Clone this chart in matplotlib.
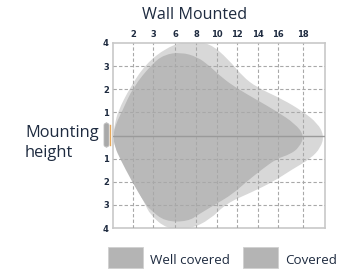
import matplotlib.pyplot as plt
from matplotlib.path import Path
from matplotlib.patches import PathPatch, FancyBboxPatch, Rectangle

# tick labels along the top (distance) and the side (height)
x_labels = ['2', '3', '6', '8', '10', '12', '14', '16', '18']
x_pos = [0.97, 1.94, 3.01, 4.03, 5.05, 6.02, 7.04, 8.01, 9.22]
y_labels = ['4', '3', '2', '1', '', '1', '2', '3', '4']
y_pos = [4, 3, 2, 1, 0, -1, -2, -3, -4]

# outline of the "Covered" zone (control points)
covered_x = [0, 0.1, 0.24, 0.83, 1.6, 2.6, 3.6, 4.7, 5.6, 6.3, 6.99, 8.25,
             9.22, 9.95, 10.25, 10.1, 9.6, 8.7, 7.8, 6.7, 5.5, 4.71, 3.74,
             2.62, 1.8, 1.55, 0.97, 0.44, 0.1]
covered_y = [0, 0.52, 1.04, 2.08, 3.1, 3.8, 4.1, 4.0, 3.3, 2.55, 2.08, 1.56,
             1.04, 0.52, 0, -0.52, -1.0, -1.47, -1.99, -2.47, -2.94, -3.64, -4.05,
             -4.05, -3.42, -2.94, -1.99, -1.0, -0.52]

# outline of the "Well covered" zone (control points)
well_x = [0, 0.15, 0.44, 0.97, 1.9, 2.5, 3.3, 4.1, 4.7, 5.3, 6.0, 6.95,
          7.96, 8.83, 9.3, 9.05, 8.59, 7.96, 7.23, 6.5, 5.78, 5.05, 4.22, 3.64,
          2.52, 1.8, 1.55, 0.92, 0.34, 0.1]
well_y = [0, 0.52, 1.04, 2.08, 3.1, 3.5, 3.6, 3.4, 3.0, 2.5, 2.05, 1.56,
          1.04, 0.52, 0, -0.52, -0.82, -1.0, -1.47, -1.99, -2.55, -2.94, -3.38,
          -3.72, -3.72, -3.2, -2.94, -1.99, -1.0, -0.52]

legend_labels = ['Well covered', 'Covered']

text_col = '#1e2b40'


def smooth_closed(xs, ys):
    # quadratic bezier through the midpoints, control points at the vertices
    n = len(xs)
    mids = [((xs[i] + xs[(i + 1) % n]) / 2, (ys[i] + ys[(i + 1) % n]) / 2) for i in range(n)]
    verts = [mids[-1]]
    codes = [Path.MOVETO]
    for i in range(n):
        verts += [(xs[i], ys[i]), mids[i]]
        codes += [Path.CURVE3, Path.CURVE3]
    return Path(verts, codes)


fig = plt.figure(figsize=(3.41, 2.71), dpi=100)
ax = fig.add_axes([113 / 341, 43 / 271, 212 / 341, 185 / 271])
ax.set_xlim(0, 10.3)
ax.set_ylim(-4, 4)

ax.add_patch(PathPatch(smooth_closed(covered_x, covered_y), facecolor='#d8d8d8',
                       edgecolor='none', zorder=1))
ax.add_patch(PathPatch(smooth_closed(well_x, well_y), facecolor='#b9b9b9',
                       edgecolor='none', zorder=2))

# grid
for xp in x_pos:
    ax.axvline(xp, color='#a8a8a8', lw=0.8, ls=(0, (3, 2)), zorder=3)
for yp in y_pos:
    if yp in (4, -4):
        continue
    if yp == 0:
        ax.axhline(0, color='#9a9a9a', lw=1.0, zorder=3)
    else:
        ax.axhline(yp, color='#a8a8a8', lw=0.8, ls=(0, (3, 2)), zorder=3)

for s in ax.spines.values():
    s.set_color('#c8c8c8')
    s.set_linewidth(1.2)

ax.xaxis.tick_top()
ax.set_xticks(x_pos)
ax.set_xticklabels(x_labels)
ax.set_yticks(y_pos)
ax.set_yticklabels(y_labels)
ax.tick_params(length=0, labelsize=6, colors=text_col, pad=3)
for lab in ax.get_xticklabels() + ax.get_yticklabels():
    lab.set_fontweight('bold')

# mounting bracket on the left edge
fig.add_artist(FancyBboxPatch((104 / 341, (271 - 147) / 271), 5 / 341, 24 / 271,
                              boxstyle='round,pad=0,rounding_size=0.008',
                              transform=fig.transFigure, facecolor='#a9a9a9',
                              edgecolor='#bdbdbd', lw=0.6))
fig.add_artist(plt.Line2D([109.5 / 341, 109.5 / 341], [(271 - 145) / 271, (271 - 125) / 271],
                          transform=fig.transFigure, color='#e6a95c', lw=1.0))

fig.text(195 / 341, 1 - 15 / 271, 'Wall Mounted', ha='center', va='center',
         fontsize=11.6, color=text_col, family='Open Sans')
fig.text(25 / 341, 1 - 133 / 271, 'Mounting', ha='left', va='center',
         fontsize=11.8, color=text_col, family='Open Sans')
fig.text(25 / 341, 1 - 153 / 271, 'height', ha='left', va='center',
         fontsize=11.8, color=text_col, family='Open Sans')

# legend
patch_x = [108, 243]
text_x = [150, 285]
for px, tx, lab in zip(patch_x, text_x, legend_labels):
    fig.add_artist(Rectangle((px / 341, (271 - 268) / 271), 35 / 341, 21 / 271,
                             transform=fig.transFigure, facecolor='#b4b4b4',
                             edgecolor='#d0d0d0', lw=0.6))
    fig.text(tx / 341, 1 - 260 / 271, lab, ha='left', va='center', fontsize=9.6,
             color=text_col, family='Open Sans')

fig.savefig('out.png', dpi=100)
